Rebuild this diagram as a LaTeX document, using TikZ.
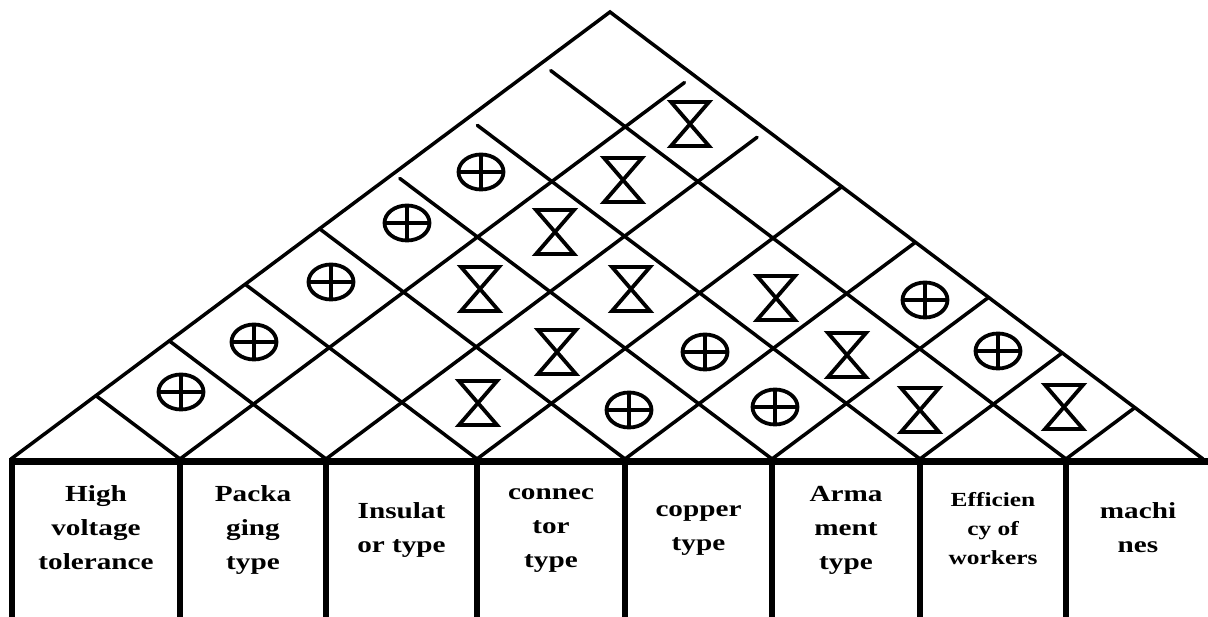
\documentclass[tikz,border=0pt]{standalone}
\usepackage{fontspec}
\setmainfont{Liberation Serif}
\newfontfamily\hoqfont{Liberation Serif}[FakeStretch=1.27]
\usetikzlibrary{calc}

\begin{document}
\begin{tikzpicture}[
    x=1pt, y=-1pt,
    roof/.style     = {line width=3.5pt, line cap=round},
    floor/.style    = {line width=7pt},
    wall/.style     = {line width=6pt},
    markline/.style = {line width=3.8pt},
    colhead/.style  = {
      align=center, inner sep=0pt,
      font=\hoqfont\bfseries\fontsize{23}{34}\selectfont,
      execute at begin node=\strut, execute at end node=\strut
    },
    pics/strong/.style = {code={
      \draw[markline] (0,0) ellipse [x radius=22.5, y radius=17.5];
      \draw[markline] (-22.5,0) -- (22.5,0) (0,-17.5) -- (0,17.5);
    }},
    pics/hourglass/.style = {code={
      \draw[markline] (-19,-22) -- (19,-22) -- (-19,22) -- (19,22) -- cycle;
    }},
  ]
  \useasboundingbox (0,0) rectangle (1208,617);
  %% ── Tejado ─────────────────────────────────────────────────
  \coordinate (apex) at (610,12);
  \coordinate (b0) at (11,459);
  \coordinate (b8) at (1203,459);
  \draw[roof] (b0) -- (apex) -- (b8);
  \foreach \i/\x/\gl/\gr in {1/180/0/12, 2/326/0/12, 3/477/0/0, 4/625/0/0,
                             5/772/8/0, 6/920/12/0, 7/1066/12/0}{
    \pgfmathsetmacro\tl{(\x-11)/1192}
    \pgfmathsetmacro\tr{(1203-\x)/1192}
    \coordinate (b\i) at (\x,459);
    \coordinate (ul\i) at ($(b0)!\tl!(apex)$);
    \coordinate (ur\i) at ($(b8)!\tr!(apex)$);
    \draw[roof, shorten >=\gl pt] (b\i) -- (ul\i);
    \draw[roof, shorten >=\gr pt] (b\i) -- (ur\i);
  }
  %% ── Base y columnas ────────────────────────────────────────
  \coordinate (fl) at (9,462);
  \coordinate (fr) at (1208,462);
  \draw[floor] (fl) -- (fr);
  \foreach \x in {12, 180, 326, 477, 625, 772, 920, 1066}
    \draw[wall] (\x,462) -- (\x,620);
  %% ── Requisitos ─────────────────────────────────────────────
  \node[colhead] (volt) at (96,533)    {High\\voltage\\tolerance};
  \node[colhead] (pack) at (253,533)   {Packa\\ging\\type};
  \node[colhead] (insu) at (401.5,533) {Insulat\\or type};
  \node[colhead] (conn) at (551,533)   {connec\\tor\\type};
  \node[colhead] (copp) at (698.5,533) {copper\\type};
  \node[colhead] (arma) at (846,533)   {Arma\\ment\\type};
  \node[colhead, font=\hoqfont\bfseries\fontsize{20}{29}\selectfont]
    (effi) at (993,533) {Efficien\\cy of\\workers};
  \node[colhead] (mach) at (1138,533)  {machi\\nes};
  %% ── Correlaciones ──────────────────────────────────────────
  \foreach \x/\y in {181/392, 254/342, 331/282, 407/223, 481/172,
                     705/352, 629/410, 775/407, 925/300, 998/351}
    \pic at (\x,\y) {strong};
  \foreach \x/\y in {690/124, 623/180, 555/232, 480/289, 631/289, 557/352,
                     478/403, 776/298, 847/355, 920/410, 1064/407}
    \pic at (\x,\y) {hourglass};
\end{tikzpicture}
\end{document}
